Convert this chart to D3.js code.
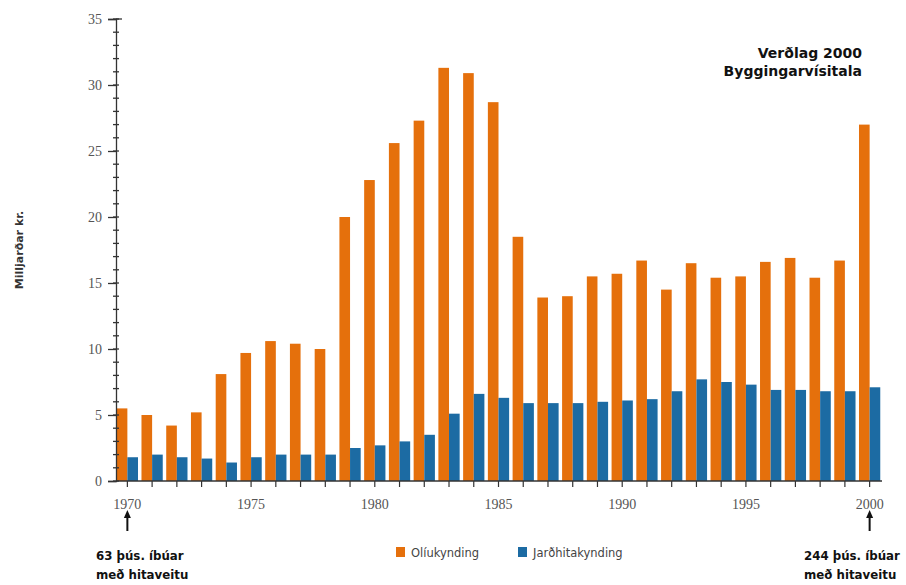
<!DOCTYPE html>
<html>
<head>
<meta charset="utf-8">
<script src="https://cdn.jsdelivr.net/npm/d3@7/dist/d3.min.js"></script>
<style>
  html, body { margin: 0; padding: 0; background: #fff; }
  svg { display: block; }
</style>
</head>
<body>
<svg id="chart" width="906" height="585"></svg>
<script>
// Heating cost by year, billions ISK at 2000 prices (building cost index)
const years = d3.range(1970, 2001);
const oilHeating = [5.5, 5.0, 4.2, 5.2, 8.1, 9.7, 10.6, 10.4, 10.0, 20.0,
                    22.8, 25.6, 27.3, 31.3, 30.9, 28.7, 18.5, 13.9, 14.0, 15.5,
                    15.7, 16.7, 14.5, 16.5, 15.4, 15.5, 16.6, 16.9, 15.4, 16.7, 27.0];
const geoHeating = [1.8, 2.0, 1.8, 1.7, 1.4, 1.8, 2.0, 2.0, 2.0, 2.5,
                    2.7, 3.0, 3.5, 5.1, 6.6, 6.3, 5.9, 5.9, 5.9, 6.0,
                    6.1, 6.2, 6.8, 7.7, 7.5, 7.3, 6.9, 6.9, 6.8, 6.8, 7.1];
const seriesNames = ["Olíukynding", "Jarðhitakynding"];
const yTicks = [0, 5, 10, 15, 20, 25, 30, 35];
const xTickLabels = [1970, 1975, 1980, 1985, 1990, 1995, 2000];
const titleLines = ["Verðlag 2000", "Byggingarvísitala"];
const yLabel = "Milljarðar kr.";
const startNote = ["63 þús. íbúar", "með hitaveitu"];
const endNote = ["244 þús. íbúar", "með hitaveitu"];

const colors = ["#e5700c", "#1c6ba3"];

const svg = d3.select("#chart");
const plotLeft = 116, plotRight = 882, plotTop = 19, plotBottom = 481;

const x0 = d3.scaleBand().domain(years).range([115, plotRight]).paddingInner(0.1).paddingOuter(0.05);
const x1 = d3.scaleBand().domain([0, 1]).range([0, x0.bandwidth()]);
const y = d3.scaleLinear().domain([0, 35]).range([plotBottom, plotTop]);

const rows = years.map((yr, i) => ({ year: yr, values: [oilHeating[i], geoHeating[i]] }));

// Bars
const groups = svg.append("g").selectAll("g").data(rows).join("g")
  .attr("transform", d => `translate(${x0(d.year)},0)`);
groups.selectAll("rect").data(d => d.values.map((v, k) => ({ v, k })))
  .join("rect")
  .attr("x", d => x1(d.k) + (d.k === 0 ? 0.5 : 0))
  .attr("width", x1.bandwidth() - 0.5)
  .attr("y", d => y(d.v))
  .attr("height", d => y(0) - y(d.v))
  .attr("fill", d => colors[d.k]);

// Y axis: major ticks with labels, minor ticks every unit
const axisColor = "#333";
const yAxis = svg.append("g").attr("transform", `translate(${plotLeft},0)`)
  .call(d3.axisLeft(y).tickValues(yTicks).tickSize(8).tickPadding(6).tickFormat(d3.format("d")));
yAxis.select(".domain").attr("stroke", axisColor).attr("stroke-width", 1.3);
yAxis.selectAll(".tick line").attr("stroke", axisColor).attr("stroke-width", 1.3);
yAxis.selectAll(".tick text")
  .attr("font-family", "'Liberation Serif', 'DejaVu Serif', serif")
  .attr("font-size", 14).attr("fill", "#555");
svg.append("g").selectAll("line").data(d3.range(0, 36))
  .join("line")
  .attr("x1", plotLeft - 3).attr("x2", plotLeft + 3)
  .attr("y1", d => y(d)).attr("y2", d => y(d))
  .attr("stroke", axisColor).attr("stroke-width", 1.3);
// small cap at the top of the axis
svg.append("line").attr("x1", plotLeft).attr("x2", plotLeft + 6)
  .attr("y1", y(35)).attr("y2", y(35)).attr("stroke", axisColor).attr("stroke-width", 1.3);

// X axis
const xAxisG = svg.append("g").attr("transform", `translate(0,${plotBottom})`)
  .call(d3.axisBottom(x0).tickValues(years).tickSize(6).tickFormat(d => xTickLabels.includes(d) ? d : ""));
xAxisG.select(".domain").attr("d", `M${plotLeft},0H${plotRight}`).attr("stroke", axisColor).attr("stroke-width", 1.3);
xAxisG.selectAll(".tick line").attr("stroke", axisColor).attr("stroke-width", 1.2);
xAxisG.selectAll(".tick text")
  .attr("font-family", "'Liberation Serif', 'DejaVu Serif', serif")
  .attr("font-size", 14).attr("fill", "#555").attr("dy", "1.35em");

// Y axis title
svg.append("text")
  .attr("transform", "translate(23,250) rotate(-90)")
  .attr("text-anchor", "middle")
  .attr("font-family", "'DejaVu Sans', sans-serif")
  .attr("font-size", 11).attr("font-weight", "bold").attr("fill", "#333")
  .text(yLabel);

// Title block
svg.append("g").selectAll("text").data(titleLines).join("text")
  .attr("x", 862).attr("y", (d, i) => 58 + i * 18)
  .attr("text-anchor", "end")
  .attr("font-family", "'DejaVu Sans', sans-serif")
  .attr("font-size", 14).attr("font-weight", "bold").attr("fill", "#111")
  .text(d => d);

// Arrows and notes at the first and last year
const notes = [
  { year: 1970, lines: startNote, tx: 96 },
  { year: 2000, lines: endNote, tx: 804 }
];
notes.forEach(n => {
  const cx = x0(n.year) + x0.bandwidth() / 2;
  svg.append("line").attr("x1", cx).attr("x2", cx).attr("y1", 531).attr("y2", 515)
    .attr("stroke", "#111").attr("stroke-width", 2);
  svg.append("path").attr("d", `M${cx - 3.5},${518}L${cx},${510}L${cx + 3.5},${518}Z`).attr("fill", "#111");
  svg.append("g").selectAll("text").data(n.lines).join("text")
    .attr("x", n.tx).attr("y", (d, i) => 560 + i * 19)
    .attr("font-family", "'DejaVu Sans', sans-serif")
    .attr("font-size", 11.8).attr("font-weight", "bold").attr("fill", "#111")
    .text(d => d);
});

// Legend
const legendPos = [396, 518];
const legend = svg.append("g").selectAll("g").data(seriesNames).join("g")
  .attr("transform", (d, i) => `translate(${legendPos[i]},547)`);
legend.append("rect").attr("width", 9).attr("height", 10).attr("fill", (d, i) => colors[i]);
legend.append("text").attr("x", 15).attr("y", 9.5)
  .attr("font-family", "'DejaVu Sans', sans-serif")
  .attr("font-size", 11.5).attr("fill", "#444")
  .text(d => d);
</script>
</body>
</html>
